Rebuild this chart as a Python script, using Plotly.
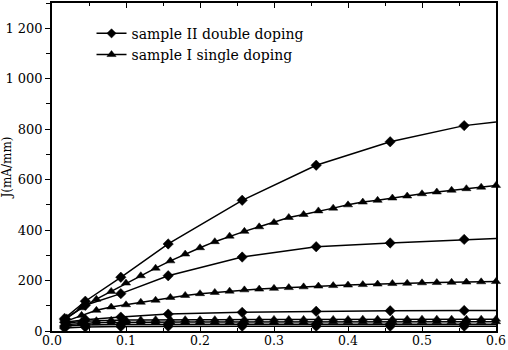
import plotly.graph_objects as go

# Drain voltage sweep points (V)
x_double = [0.017, 0.045, 0.093, 0.157, 0.257, 0.357, 0.457, 0.557, 0.6]
x_single = [0.02, 0.04, 0.06, 0.08, 0.10, 0.12, 0.14, 0.16, 0.18, 0.20,
            0.22, 0.24, 0.26, 0.28, 0.30, 0.32, 0.34, 0.36, 0.38, 0.40,
            0.42, 0.44, 0.46, 0.48, 0.50, 0.52, 0.54, 0.56, 0.58, 0.60]

# Current density J (mA/mm), sample II double doping
double_1 = [50, 118, 213, 345, 518, 657, 750, 814, 828]
double_2 = [45, 102, 148, 219, 293, 334, 349, 363, 367]
double_3 = [35, 45, 55, 67, 74, 78, 80, 81, 81]
double_4 = [20, 24, 26, 27, 27, 27, 27, 27, 27]
double_5 = [12, 16, 18, 19, 19, 19, 19, 19, 19]

# Current density J (mA/mm), sample I single doping
single_1 = [52, 92, 126, 157, 190, 219, 249, 278, 305, 330,
            354, 376, 395, 413, 430, 450, 462, 476, 487, 500,
            511, 518, 527, 535, 544, 551, 558, 564, 570, 577]
single_2 = [40, 62, 82, 95, 104, 114, 122, 133, 141, 148,
            153, 158, 163, 166, 169, 172, 175, 178, 180, 182,
            184, 186, 188, 189, 191, 192, 193, 194, 195, 196]
single_3 = [32, 38, 41, 43, 44, 44, 45, 45, 45, 45,
            45, 46, 46, 46, 46, 46, 46, 46, 46, 46,
            47, 47, 47, 47, 47, 47, 47, 47, 47, 47]
single_4 = [26, 31, 33, 34, 35, 35, 35, 35, 36, 36,
            36, 36, 36, 36, 36, 36, 36, 37, 37, 37,
            37, 37, 37, 37, 37, 37, 37, 37, 37, 37]

legend_double = "sample II double doping"
legend_single = "sample I single doping"

FONT = "DejaVu Serif"
fig = go.Figure()

# last point of each double-doping curve is a line end only (no marker)
d_sizes = [8] * (len(x_double) - 1) + [0]

for i, ys in enumerate([double_1, double_2, double_3, double_4, double_5]):
    fig.add_trace(go.Scatter(
        x=x_double, y=ys, mode="lines+markers",
        name=legend_double, showlegend=(i == 0),
        line=dict(color="black", width=1.5),
        marker=dict(symbol="diamond", size=d_sizes, color="#000000",
                    opacity=1, line=dict(width=0.5, color="#000000")),
    ))

for i, ys in enumerate([single_1, single_2, single_3, single_4]):
    fig.add_trace(go.Scatter(
        x=x_single, y=ys, mode="lines+markers",
        name=legend_single, showlegend=(i == 0),
        line=dict(color="black", width=1.5),
        marker=dict(symbol="triangle-up", size=8, color="#000000",
                    opacity=1, line=dict(width=0.5, color="#000000")),
        cliponaxis=False,
    ))

fig.update_layout(
    width=508, height=350,
    margin=dict(l=52, r=12, t=3, b=19, autoexpand=False),
    paper_bgcolor="white", plot_bgcolor="white",
    separators=". ",
    font=dict(family=FONT, size=13, color="black"),
    showlegend=True,
    legend=dict(
        x=0.089, y=0.955, xanchor="left", yanchor="top",
        bgcolor="rgba(0,0,0,0)", borderwidth=0,
        font=dict(family=FONT, size=14, color="black"),
        itemwidth=30, tracegroupgap=0,
    ),
    xaxis=dict(
        range=[0, 0.6], dtick=0.1, tick0=0, tickformat=".1f",
        showgrid=False, zeroline=False, automargin=False,
        showline=True, linecolor="black", linewidth=1.5, mirror="ticks",
        ticks="inside", ticklen=5, tickwidth=1.2, tickcolor="black",
        minor=dict(dtick=0.05, ticks="inside", ticklen=3, tickwidth=1.2, tickcolor="black"),
        tickfont=dict(family=FONT, size=12.5),
        ticklabelstandoff=-3,
    ),
    yaxis=dict(
        range=[0, 1300], dtick=200, tick0=0, tickformat=",d",
        showgrid=False, zeroline=False, automargin=False,
        showline=True, linecolor="black", linewidth=1.5, mirror=True,
        ticks="outside", ticklen=5, tickwidth=1.2, tickcolor="black",
        minor=dict(dtick=100, ticks="outside", ticklen=4, tickwidth=1.2, tickcolor="black"),
        tickfont=dict(family=FONT, size=13),
        title=dict(text="J(mA/mm)", font=dict(family=FONT, size=12), standoff=4),
    ),
    yaxis2=dict(
        range=[0, 1300], dtick=200, tick0=0, overlaying="y", side="right",
        matches="y", showticklabels=False, showgrid=False, zeroline=False,
        showline=False, automargin=False,
        ticks="inside", ticklen=5, tickwidth=1.2, tickcolor="black",
        minor=dict(dtick=100, ticks="inside", ticklen=3, tickwidth=1.2, tickcolor="black"),
    ),
)

fig.write_html("out.html")
